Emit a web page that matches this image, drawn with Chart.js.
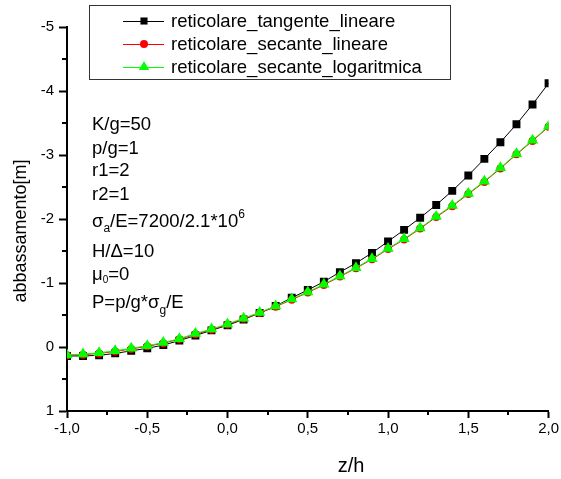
<!DOCTYPE html>
<html>
<head>
  <meta charset="utf-8">
  <title>abbassamento vs z/h</title>
  <script src="https://cdn.jsdelivr.net/npm/chart.js"></script>
  <style>
    html, body { margin: 0; padding: 0; background: #fff; }
    #wrap { width: 561px; height: 479px; }
  </style>
</head>
<body>
  <div id="wrap"><canvas id="chart" width="561" height="479"></canvas></div>

  <script>
    // z/h positions
    const zh = [-1.0, -0.9, -0.8, -0.7, -0.6, -0.5, -0.4, -0.3, -0.2, -0.1,
                0.0, 0.1, 0.2, 0.3, 0.4, 0.5, 0.6, 0.7, 0.8, 0.9,
                1.0, 1.1, 1.2, 1.3, 1.4, 1.5, 1.6, 1.7, 1.8, 1.9, 2.0];

    // abbassamento [m]
    const tangenteLineare = [0.14, 0.14, 0.13, 0.10, 0.06, 0.02, -0.03, -0.10, -0.18, -0.26,
                             -0.34, -0.43, -0.53, -0.64, -0.77, -0.89, -1.02, -1.17, -1.31, -1.47,
                             -1.65, -1.83, -2.02, -2.22, -2.44, -2.68, -2.94, -3.20, -3.48, -3.79, -4.12];
    const secanteLineare = [0.13, 0.12, 0.10, 0.07, 0.03, -0.01, -0.06, -0.12, -0.20, -0.27,
                            -0.35, -0.44, -0.53, -0.63, -0.74, -0.85, -0.97, -1.10, -1.23, -1.37,
                            -1.53, -1.68, -1.85, -2.03, -2.20, -2.39, -2.58, -2.79, -3.01, -3.22, -3.44];
    const secanteLogaritmica = [0.125, 0.11, 0.09, 0.06, 0.02, -0.02, -0.07, -0.13, -0.21, -0.28,
                                -0.36, -0.45, -0.54, -0.64, -0.75, -0.86, -0.98, -1.11, -1.24, -1.38,
                                -1.54, -1.69, -1.86, -2.04, -2.21, -2.40, -2.59, -2.80, -3.02, -3.23, -3.45];

    const seriesNames = ['reticolare_tangente_lineare', 'reticolare_secante_lineare', 'reticolare_secante_logaritmica'];

    const FONT = 'Arial, "Liberation Sans", sans-serif';

    function toPoints(ys) {
      return zh.map((x, i) => ({ x: x, y: ys[i] }));
    }

    function commaLabel(v) {
      return Number(v).toFixed(1).replace('.', ',');
    }

    // minor ticks, text block and the boxed legend
    const extras = {
      id: 'extras',
      afterDraw(chart) {
        const ctx = chart.ctx;
        const xs = chart.scales.x;
        const ys = chart.scales.y;
        const area = chart.chartArea;

        ctx.save();
        ctx.strokeStyle = '#000';
        ctx.lineWidth = 2;
        ctx.beginPath();
        for (let v = -4.5; v <= 0.5; v += 1) {
          const py = Math.round(ys.getPixelForValue(v));
          ctx.moveTo(area.left, py);
          ctx.lineTo(area.left - 5, py);
        }
        for (let v = -0.75; v <= 1.75; v += 0.5) {
          const px = Math.round(xs.getPixelForValue(v));
          ctx.moveTo(px, area.bottom);
          ctx.lineTo(px, area.bottom + 4);
        }
        ctx.stroke();

        // axis titles
        ctx.fillStyle = '#000';
        ctx.textAlign = 'center';
        ctx.textBaseline = 'middle';
        ctx.font = '20px ' + FONT;
        ctx.fillText('z/h', 351, 466);
        ctx.save();
        ctx.translate(21, 231);
        ctx.rotate(-Math.PI / 2);
        ctx.font = '18px ' + FONT;
        ctx.fillText('abbassamento[m]', 0, 0);
        ctx.restore();

        // parameter text, pieces: [text, size, dy]
        ctx.textAlign = 'left';
        ctx.textBaseline = 'alphabetic';
        const lines = [
          { y: 130, parts: [['K/g=50', 18.5, 0]] },
          { y: 154, parts: [['p/g=1', 18.5, 0]] },
          { y: 176, parts: [['r1=2', 18.5, 0]] },
          { y: 200, parts: [['r2=1', 18.5, 0]] },
          { y: 227, parts: [['\u03c3', 18.5, 0], ['a', 12, 5], ['/E=7200/2.1*10', 18.5, 0], ['6', 12, -9]] },
          { y: 257, parts: [['H/\u0394=10', 18.5, 0]] },
          { y: 280, parts: [['\u03bc', 18.5, 0], ['0', 10, 3], ['=0', 18.5, 0]] },
          { y: 308, parts: [['P=p/g*\u03c3', 18.5, 0], ['g', 12, 6], ['/E', 18.5, 0]] }
        ];
        lines.forEach(line => {
          let x = 92;
          line.parts.forEach(p => {
            ctx.font = p[1] + 'px ' + FONT;
            ctx.fillText(p[0], x, line.y + p[2]);
            x += ctx.measureText(p[0]).width;
          });
        });

        // legend box
        ctx.lineWidth = 1;
        ctx.strokeStyle = '#333';
        ctx.strokeRect(89.5, 5.5, 361, 74);
        const rows = [21, 44, 67];
        chart.data.datasets.forEach((ds, i) => {
          const cy = rows[i];
          ctx.strokeStyle = ds.borderColor;
          ctx.lineWidth = 1;
          ctx.beginPath();
          ctx.moveTo(123, cy + 0.5);
          ctx.lineTo(164, cy + 0.5);
          ctx.stroke();
          ctx.fillStyle = ds.pointBackgroundColor;
          ctx.strokeStyle = ds.pointBackgroundColor;
          Chart.helpers.drawPoint(ctx, {
            pointStyle: ds.pointStyle,
            radius: ds.legendRadius,
            rotation: 0,
            borderWidth: 0
          }, 144, cy);
          ctx.fillStyle = '#000';
          ctx.font = '18.5px ' + FONT;
          ctx.textBaseline = 'middle';
          ctx.fillText(ds.label, 171, cy + 1);
        });
        ctx.restore();
      }
    };

    new Chart(document.getElementById('chart'), {
      type: 'line',
      data: {
        datasets: [
          {
            label: seriesNames[0],
            data: toPoints(tangenteLineare),
            order: 3,
            borderColor: '#000000',
            borderWidth: 1,
            pointStyle: 'rect',
            pointRadius: 5.6,
            legendRadius: 5,
            pointBackgroundColor: '#000000',
            pointBorderColor: '#000000',
            pointBorderWidth: 0,
            clip: 0
          },
          {
            label: seriesNames[1],
            data: toPoints(secanteLineare),
            order: 2,
            borderColor: '#ff0000',
            borderWidth: 1,
            pointStyle: 'circle',
            pointRadius: 4,
            legendRadius: 4,
            pointBackgroundColor: '#ff0000',
            pointBorderColor: '#ff0000',
            pointBorderWidth: 0,
            clip: 0
          },
          {
            label: seriesNames[2],
            data: toPoints(secanteLogaritmica),
            order: 1,
            borderColor: '#00ff00',
            borderWidth: 1,
            pointStyle: 'triangle',
            pointRadius: 6.5,
            legendRadius: 6,
            pointBackgroundColor: '#00ff00',
            pointBorderColor: '#00ff00',
            pointBorderWidth: 0,
            clip: 0
          }
        ]
      },
      options: {
        responsive: false,
        animation: false,
        devicePixelRatio: 1,
        layout: { padding: { top: 27, right: 12, left: 0, bottom: 0 } },
        plugins: {
          legend: { display: false },
          tooltip: { enabled: false }
        },
        elements: { line: { tension: 0 } },
        scales: {
          x: {
            type: 'linear',
            min: -1,
            max: 2,
            afterFit: scale => { scale.height = 68; },
            border: { display: true, color: '#000', width: 2 },
            grid: { drawOnChartArea: false, drawTicks: true, tickLength: 7, tickColor: '#000', tickWidth: 2 },
            ticks: {
              stepSize: 0.5,
              color: '#000',
              padding: 2,
              maxRotation: 0,
              font: { family: FONT, size: 15 },
              callback: v => commaLabel(v)
            }
          },
          y: {
            type: 'linear',
            min: -5,
            max: 1,
            reverse: true,
            afterFit: scale => { scale.width = 67; },
            border: { display: true, color: '#000', width: 2 },
            grid: { drawOnChartArea: false, drawTicks: true, tickLength: 8, tickColor: '#000', tickWidth: 2 },
            ticks: {
              stepSize: 1,
              color: '#000',
              padding: 5,
              font: { family: FONT, size: 15 }
            }
          }
        }
      },
      plugins: [extras]
    });
  </script>
</body>
</html>
